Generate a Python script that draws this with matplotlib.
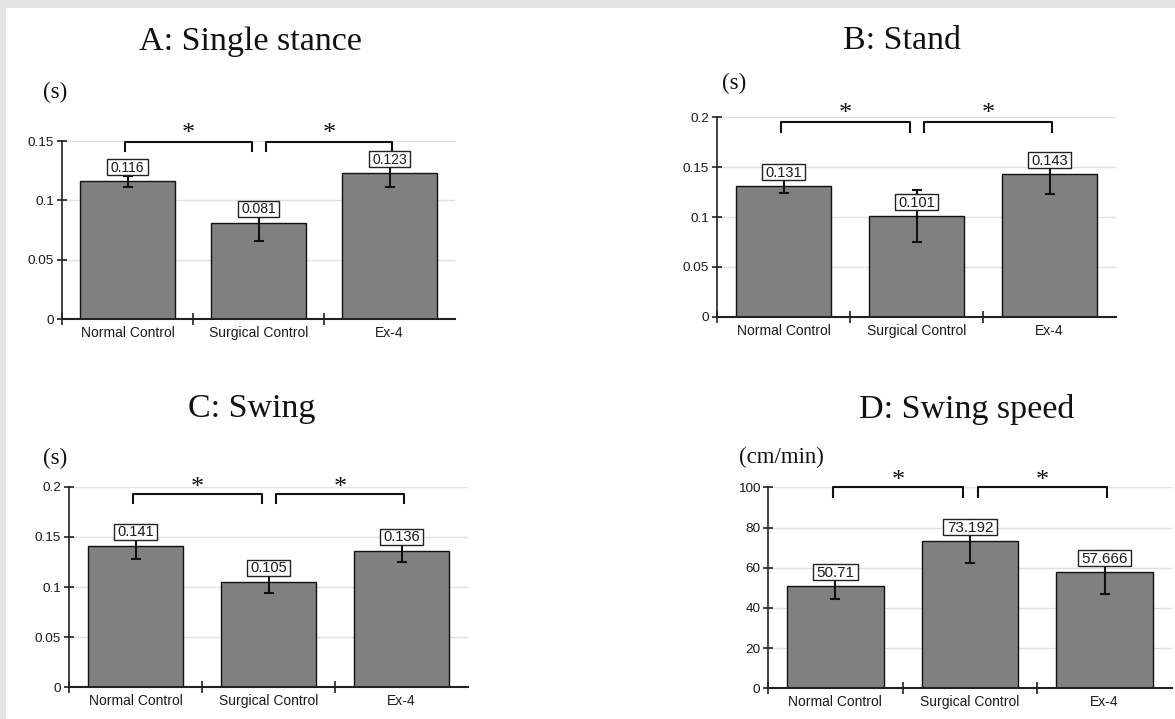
import matplotlib
matplotlib.use("Agg")
import matplotlib.pyplot as plt
from matplotlib.patches import Rectangle
from matplotlib.transforms import IdentityTransform

# ---------------- data ----------------
categories = ["Normal Control", "Surgical Control", "Ex-4"]

titles = ["A: Single stance", "B: Stand", "C: Swing", "D: Swing speed"]
units = ["(s)", "(s)", "(s)", "(cm/min)"]

single_stance = [0.116, 0.081, 0.123]
single_stance_err = [0.0045, 0.015, 0.0114]
stand = [0.131, 0.101, 0.143]
stand_err = [0.0065, 0.026, 0.020]
swing = [0.141, 0.105, 0.136]
swing_err = [0.0134, 0.0107, 0.0108]
swing_speed = [50.71, 73.192, 57.666]
swing_speed_err = [6.4, 10.7, 10.6]

value_labels_a = ["0.116", "0.081", "0.123"]
value_labels_b = ["0.131", "0.101", "0.143"]
value_labels_c = ["0.141", "0.105", "0.136"]
value_labels_d = ["50.71", "73.192", "57.666"]

yticks_a = [0, 0.05, 0.1, 0.15]
yticks_b = [0, 0.05, 0.1, 0.15, 0.2]
yticks_c = [0, 0.05, 0.1, 0.15, 0.2]
yticks_d = [0, 20, 40, 60, 80, 100]
yticklabels_a = ["0", "0.05", "0.1", "0.15"]
yticklabels_b = ["0", "0.05", "0.1", "0.15", "0.2"]
yticklabels_c = ["0", "0.05", "0.1", "0.15", "0.2"]
yticklabels_d = ["0", "20", "40", "60", "80", "100"]

# ---------------- layout ----------------
W, H = 1175, 719
DPI = 100
fig = plt.figure(figsize=(W / DPI, H / DPI), dpi=DPI)
fig.patch.set_facecolor("white")

# gray frame (top and left strips)
fig.patches.append(Rectangle((0, 1 - 8 / H), 1, 8 / H, transform=fig.transFigure,
                             facecolor="#e3e3e3", edgecolor="none", zorder=0))
fig.patches.append(Rectangle((0, 0), 6 / W, 1, transform=fig.transFigure,
                             facecolor="#e3e3e3", edgecolor="none", zorder=0))

def px_axes(x0, y_top, x1, y_bot):
    return fig.add_axes([x0 / W, 1 - y_bot / H, (x1 - x0) / W, (y_bot - y_top) / H])

panels = [
    dict(box=(62, 141, 455, 319), vals=single_stance, err=single_stance_err,
         labels=value_labels_a, yt=yticks_a, ytl=yticklabels_a, lfs=10,
         title_xy=(250, 50), unit_xy=(43, 98), br=(0.994, 0.944), star=1.040),
    dict(box=(717, 117.3, 1116, 316.7), vals=stand, err=stand_err,
         labels=value_labels_b, yt=yticks_b, ytl=yticklabels_b, lfs=10.5,
         title_xy=(902, 49), unit_xy=(722, 89), br=(0.978, 0.928), star=1.017),
    dict(box=(69, 486.7, 468, 687.3), vals=swing, err=swing_err,
         labels=value_labels_c, yt=yticks_c, ytl=yticklabels_c, lfs=10.5,
         title_xy=(252, 417), unit_xy=(43, 464), br=(0.962, 0.917), star=0.996),
    dict(box=(768, 487.3, 1172, 688.3), vals=swing_speed, err=swing_speed_err,
         labels=value_labels_d, yt=yticks_d, ytl=yticklabels_d, lfs=11,
         title_xy=(967, 418), unit_xy=(739, 463), br=(1.0, 0.953), star=1.032),
]

sans = "Liberation Sans"
serif = "Liberation Serif"
txt_color = "#1a1a1a"

label_texts = []
for i, p in enumerate(panels):
    ax = px_axes(*p["box"])
    x = list(range(len(categories)))
    ax.bar(x, p["vals"], width=0.72, color="#808080", edgecolor="#111111",
           linewidth=1.0, zorder=2)
    ax.errorbar(x, p["vals"], yerr=p["err"], fmt="none", ecolor="#111111",
                elinewidth=1.5, capsize=3.3, capthick=1.5, zorder=3)
    ax.set_xlim(-0.5, 2.5)
    ax.set_ylim(p["yt"][0], p["yt"][-1])
    ax.set_yticks(p["yt"])
    ax.set_yticklabels(p["ytl"], fontsize=9.7, family=sans, color=txt_color)
    ax.set_xticks([-0.5, 0.5, 1.5])
    ax.set_xticklabels([])
    ax.set_xticks(x, minor=True)
    ax.set_xticklabels(categories, minor=True, fontsize=10, family=sans,
                       color=txt_color)
    ax.tick_params(axis="x", which="major", direction="inout", length=8,
                   width=1.2, color="#222222")
    ax.tick_params(axis="x", which="minor", length=0, pad=5)
    ax.tick_params(axis="y", direction="inout", length=7, width=1.2,
                   color="#222222", pad=2)
    for s in ("top", "right"):
        ax.spines[s].set_visible(False)
    ax.spines["left"].set_color("#222222")
    ax.spines["left"].set_linewidth(1.2)
    ax.spines["bottom"].set_color("#222222")
    ax.spines["bottom"].set_linewidth(1.5)
    ax.set_axisbelow(True)
    ax.yaxis.grid(True, color="#e0e0e0", linewidth=1.0)

    # value labels
    for xi, v, lab in zip(x, p["vals"], p["labels"]):
        t = ax.annotate(lab, (xi, v), xytext=(0, 6.5), textcoords="offset pixels",
                        ha="center", va="bottom", fontsize=p["lfs"], family=sans,
                        color=txt_color, zorder=6)
        label_texts.append((ax, t))

    # significance brackets
    top, tip = p["br"]
    trans = ax.get_xaxis_transform()
    for (xa, xb) in [(-0.02, 0.95), (1.06, 2.02)]:
        ax.plot([xa, xa, xb, xb], [tip, top, top, tip], color="#111111",
                linewidth=1.5, transform=trans, clip_on=False, zorder=5)
        ax.text((xa + xb) / 2, p["star"], "*", transform=trans, ha="center",
                va="center", fontsize=19, family=serif, color="#111111")

    # title and unit
    tx, ty = p["title_xy"]
    fig.text(tx / W, 1 - ty / H, titles[i], ha="center", va="baseline",
             fontsize=24.5, family=serif, color="#111111")
    ux, uy = p["unit_xy"]
    fig.text(ux / W, 1 - uy / H, units[i], ha="left", va="baseline",
             fontsize=16.5, family=serif, color="#111111")

# boxes around value labels
fig.canvas.draw()
for ax, t in label_texts:
    bb = t.get_window_extent()
    rect = Rectangle((bb.x0 - 3.5, bb.y0 - 0.5), bb.width + 7, bb.height + 2,
                     transform=IdentityTransform(), facecolor="white",
                     edgecolor="#222222", linewidth=1.0, zorder=5, clip_on=False)
    ax.add_artist(rect)

fig.savefig("out.png", dpi=DPI, facecolor=fig.get_facecolor())
